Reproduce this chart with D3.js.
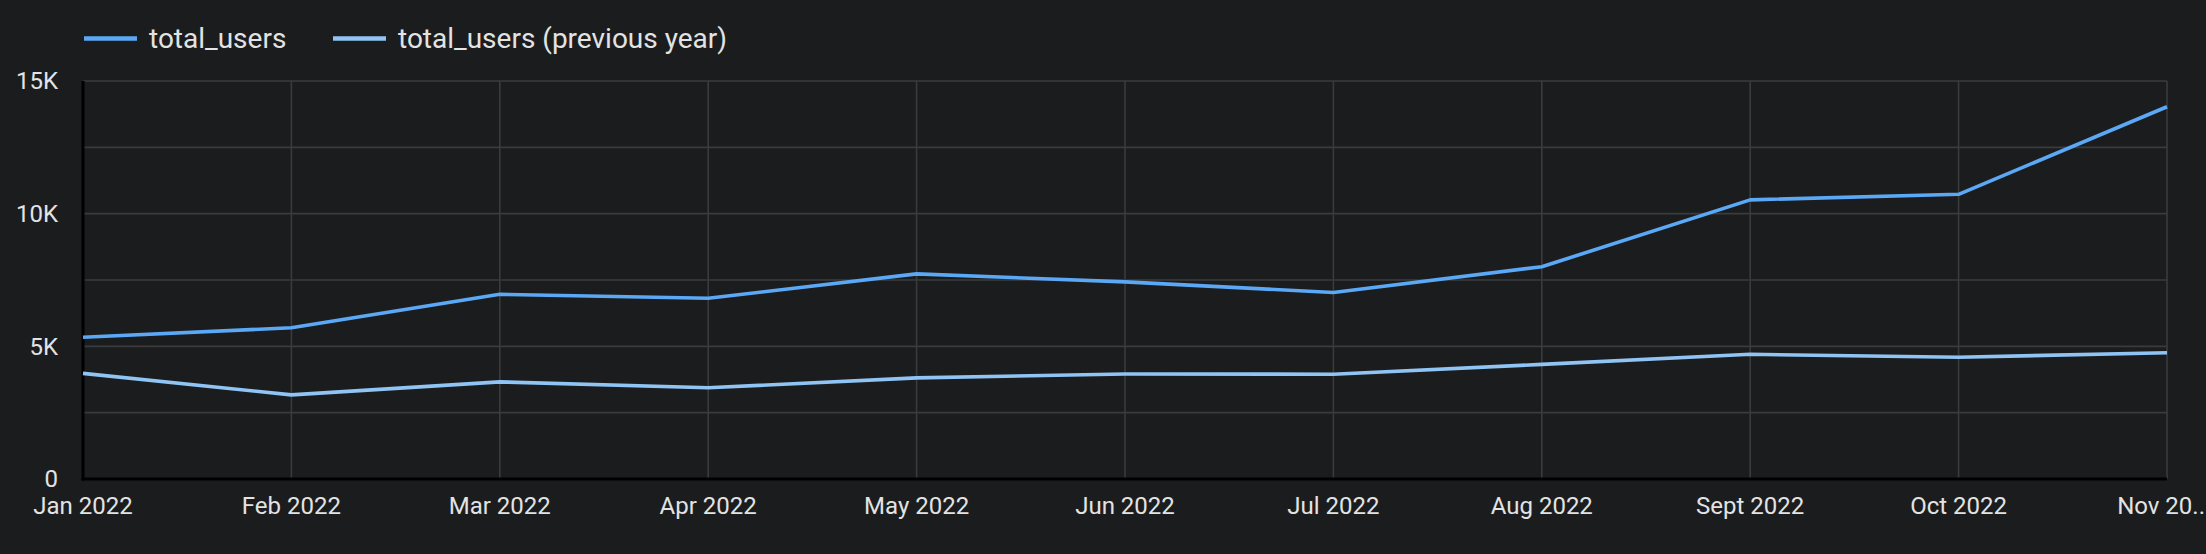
<!DOCTYPE html>
<html>
<head>
<meta charset="utf-8">
<script src="https://cdn.jsdelivr.net/npm/d3@7"></script>
<style>
  html, body { margin: 0; padding: 0; background: #1b1c1e; overflow: hidden; }
  svg { display: block; }
  text { font-family: Roboto, "Noto Sans", sans-serif; }
</style>
</head>
<body>
<svg id="chart" width="2206" height="554"></svg>
<script>
const months = ["Jan 2022","Feb 2022","Mar 2022","Apr 2022","May 2022","Jun 2022","Jul 2022","Aug 2022","Sept 2022","Oct 2022","Nov 2022"];
const totalUsers = [5340, 5700, 6960, 6810, 7730, 7430, 7030, 8000, 10520, 10730, 14030];
const totalUsersPrev = [3980, 3170, 3660, 3440, 3810, 3960, 3950, 4320, 4700, 4590, 4760];
const yTicks = [0, 5000, 10000, 15000];
const yGrid = [0, 2500, 5000, 7500, 10000, 12500, 15000];
const seriesNames = ["total_users", "total_users (previous year)"];
const seriesColors = ["#5aa8f6", "#8fc4f5"];

const W = 2206, H = 554;
const margin = {left: 83, right: 39, top: 81, bottom: 75};
const svg = d3.select("#chart");
svg.append("rect").attr("width", W).attr("height", H).attr("fill", "#1b1c1e");

const x = d3.scalePoint().domain(months).range([margin.left, W - margin.right]);
const y = d3.scaleLinear().domain([0, 15000]).range([H - margin.bottom, margin.top]);

// grid
const g = svg.append("g");
g.selectAll("line.h").data(yGrid).join("line")
  .attr("x1", margin.left).attr("x2", W - margin.right)
  .attr("y1", d => y(d)).attr("y2", d => y(d))
  .attr("stroke", "#3a3b3d").attr("stroke-width", 1.6);
g.selectAll("line.v").data(months.slice(1)).join("line")
  .attr("x1", d => x(d)).attr("x2", d => x(d))
  .attr("y1", y(15000)).attr("y2", y(0))
  .attr("stroke", "#3a3b3d").attr("stroke-width", 1.6);

// axes lines
svg.append("line").attr("x1", margin.left).attr("x2", margin.left)
  .attr("y1", y(15000)).attr("y2", y(0) + 1.5).attr("stroke", "#000").attr("stroke-width", 3);
svg.append("line").attr("x1", margin.left - 1.5).attr("x2", W - margin.right)
  .attr("y1", y(0)).attr("y2", y(0)).attr("stroke", "#000").attr("stroke-width", 3);

// y labels
const fmt = d => d === 0 ? "0" : (d / 1000) + "K";
svg.append("g").selectAll("text").data(yTicks).join("text")
  .attr("x", 58).attr("y", d => y(d)).attr("dy", "0.35em")
  .attr("text-anchor", "end").attr("fill", "#e3e3e3").attr("font-size", 24)
  .text(fmt);

// x labels (last one truncated like the original, kept inside the frame)
const xl = svg.append("g").selectAll("text").data(months).join("text")
  .attr("x", d => x(d)).attr("y", 514)
  .attr("text-anchor", "middle").attr("fill", "#e3e3e3").attr("font-size", 24)
  .text(d => d);
xl.each(function(d) {
  const t = d3.select(this);
  let s = d;
  if (x(d) + this.getComputedTextLength() / 2 > W) {
    while (s.length > 1) {
      s = s.slice(0, -1);
      t.text(s + "..");
      if (x(d) + this.getComputedTextLength() / 2 <= W + 6) break;
    }
    t.attr("text-anchor", "end").attr("x", W - 1);
  }
});

// lines
const line = d3.line().x((d, i) => x(months[i])).y(d => y(d));
[[totalUsersPrev, 1], [totalUsers, 0]].forEach(([vals, idx]) => {
  svg.append("path").datum(vals).attr("d", line)
    .attr("fill", "none").attr("stroke", seriesColors[idx])
    .attr("stroke-width", 3.6).attr("stroke-linejoin", "round");
});

// legend
const legendX = [84, 333];
const lg = svg.append("g");
seriesNames.forEach((name, i) => {
  lg.append("line").attr("x1", legendX[i]).attr("x2", legendX[i] + 53)
    .attr("y1", 38.5).attr("y2", 38.5).attr("stroke", seriesColors[i]).attr("stroke-width", 4.5);
  lg.append("text").attr("x", legendX[i] + 65).attr("y", 38.5).attr("dy", "0.35em")
    .attr("fill", "#e3e3e3").attr("font-size", 28).text(name);
});
</script>
</body>
</html>
